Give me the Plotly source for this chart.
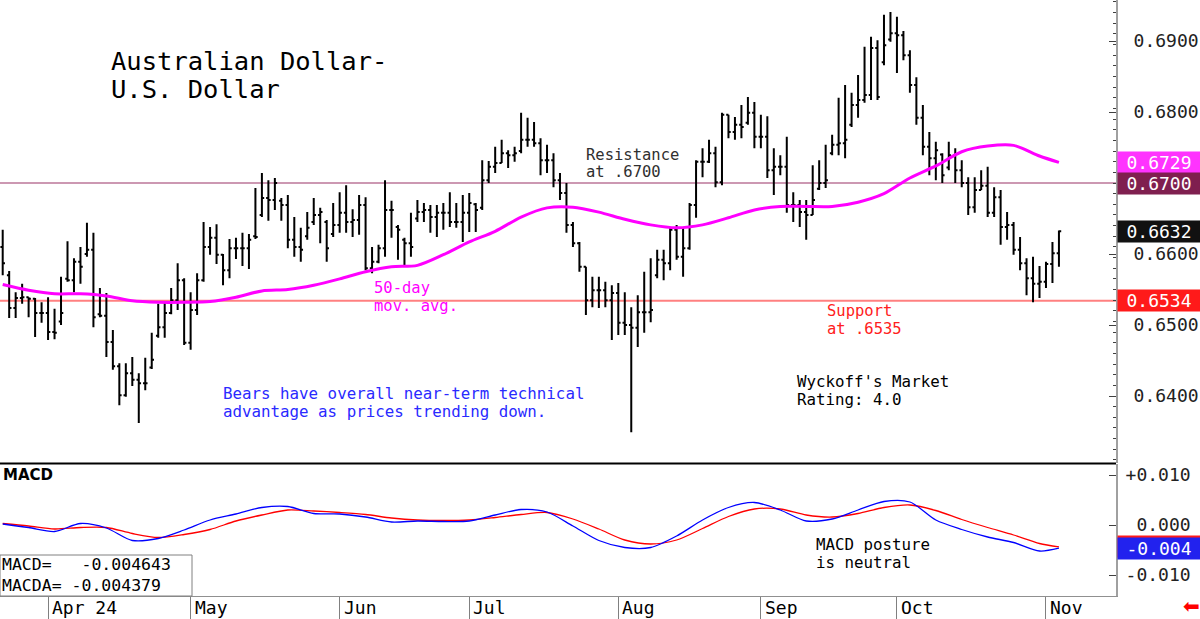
import plotly.graph_objects as go
import pandas as pd

# ---------------- data ----------------
dates = pd.bdate_range("2024-03-21", "2024-11-05")
month_labels = ["Apr 24", "May", "Jun", "Jul", "Aug", "Sep", "Oct", "Nov"]

opens = [
    .6610, .6570, .6524, .6538, .6539, .6537, .6517, .6517, .6490, .6505,
    .6565, .6563, .6589, .6600, .6606, .6515, .6513, .6476, .6442, .6401,
    .6432, .6423, .6418, .6440, .6485, .6497, .6517, .6535, .6563, .6475,
    .6521, .6563, .6610, .6623, .6599, .6577, .6608, .6608, .6608, .6625,
    .6655, .6679, .6676, .6675, .6669, .6620, .6610, .6625, .6645, .6655,
    .6645, .6628, .6641, .6658, .6645, .6648, .6669, .6580, .6589, .6608,
    .6662, .6638, .6620, .6615, .6650, .6659, .6662, .6652, .6658, .6658,
    .6645, .6645, .6658, .6670, .6665, .6704, .6723, .6728, .6742, .6739,
    .6745, .6761, .6761, .6756, .6732, .6732, .6704, .6686, .6641, .6615,
    .6582, .6535, .6549, .6549, .6535, .6545, .6503, .6500, .6496, .6518,
    .6518, .6570, .6592, .6587, .6634, .6596, .6608, .6669, .6730, .6730,
    .6742, .6701, .6796, .6772, .6782, .6785, .6799, .6765, .6765, .6718,
    .6723, .6723, .6669, .6669, .6659, .6655, .6692, .6700, .6742, .6754,
    .6756, .6782, .6810, .6817, .6824, .6890, .6870, .6902, .6911, .6908,
    .6880, .6838, .6792, .6751, .6735, .6740, .6722, .6739, .6718, .6700,
    .6666, .6690, .6696, .6658, .6680, .6638, .6641, .6606, .6587, .6566,
    .6558, .6561, .6586, .6601,
]
highs = [
    .6634, .6576, .6546, .6558, .6539, .6538, .6532, .6539, .6523, .6568,
    .6618, .6594, .6610, .6644, .6630, .6552, .6545, .6493, .6446, .6446,
    .6455, .6432, .6454, .6489, .6530, .6532, .6552, .6587, .6566, .6546,
    .6573, .6645, .6638, .6642, .6600, .6621, .6623, .6630, .6628, .6693,
    .6714, .6704, .6707, .6679, .6683, .6652, .6637, .6659, .6679, .6665,
    .6648, .6672, .6687, .6697, .6663, .6683, .6680, .6610, .6613, .6704,
    .6675, .6641, .6623, .6658, .6676, .6672, .6669, .6669, .6672, .6687,
    .6672, .6683, .6686, .6672, .6732, .6731, .6751, .6761, .6746, .6751,
    .6799, .6792, .6786, .6763, .6754, .6742, .6714, .6700, .6645, .6617,
    .6582, .6568, .6568, .6561, .6556, .6559, .6546, .6525, .6542, .6575,
    .6594, .6606, .6606, .6638, .6641, .6637, .6672, .6732, .6749, .6761,
    .6751, .6799, .6796, .6793, .6810, .6821, .6814, .6796, .6794, .6749,
    .6739, .6765, .6687, .6676, .6676, .6725, .6732, .6754, .6768, .6820,
    .6838, .6827, .6852, .6892, .6906, .6901, .6937, .6941, .6934, .6914,
    .6887, .6849, .6810, .6772, .6758, .6742, .6758, .6749, .6732, .6708,
    .6708, .6718, .6723, .6694, .6690, .6659, .6645, .6624, .6594, .6596,
    .6583, .6589, .6617, .6633,
]
lows = [
    .6570, .6510, .6510, .6530, .6511, .6483, .6503, .6479, .6480, .6500,
    .6561, .6546, .6558, .6596, .6497, .6511, .6455, .6437, .6387, .6399,
    .6414, .6362, .6408, .6438, .6482, .6482, .6515, .6521, .6472, .6465,
    .6514, .6561, .6599, .6586, .6556, .6566, .6593, .6583, .6579, .6621,
    .6652, .6647, .6662, .6647, .6608, .6596, .6589, .6620, .6641, .6615,
    .6589, .6624, .6630, .6630, .6624, .6627, .6577, .6573, .6587, .6596,
    .6623, .6592, .6582, .6596, .6645, .6645, .6630, .6624, .6634, .6638,
    .6637, .6617, .6631, .6631, .6662, .6700, .6714, .6728, .6721, .6730,
    .6742, .6751, .6751, .6711, .6714, .6694, .6676, .6630, .6610, .6575,
    .6514, .6525, .6524, .6525, .6479, .6486, .6486, .6349, .6469, .6489,
    .6504, .6566, .6563, .6577, .6592, .6568, .6606, .6651, .6708, .6728,
    .6694, .6697, .6763, .6761, .6763, .6782, .6749, .6749, .6707, .6683,
    .6711, .6658, .6645, .6638, .6620, .6655, .6690, .6693, .6739, .6739,
    .6735, .6779, .6792, .6813, .6817, .6817, .6866, .6899, .6855, .6873,
    .6827, .6782, .6739, .6711, .6704, .6700, .6718, .6700, .6694, .6655,
    .6658, .6690, .6652, .6652, .6613, .6620, .6599, .6577, .6542, .6532,
    .6538, .6552, .6559, .6582,
]
closes = [
    .6587, .6524, .6538, .6539, .6537, .6517, .6517, .6490, .6489, .6517,
    .6563, .6589, .6582, .6606, .6511, .6513, .6476, .6442, .6401, .6432,
    .6423, .6418, .6418, .6451, .6497, .6517, .6535, .6563, .6475, .6521,
    .6563, .6610, .6623, .6599, .6577, .6608, .6608, .6608, .6620, .6624,
    .6679, .6676, .6700, .6669, .6620, .6610, .6606, .6637, .6655, .6659,
    .6608, .6641, .6658, .6645, .6648, .6669, .6580, .6589, .6608, .6662,
    .6662, .6634, .6615, .6610, .6659, .6662, .6652, .6658, .6658, .6645,
    .6645, .6658, .6672, .6662, .6704, .6723, .6728, .6742, .6739, .6742,
    .6761, .6761, .6756, .6732, .6732, .6704, .6686, .6641, .6615, .6582,
    .6535, .6549, .6549, .6535, .6545, .6503, .6500, .6496, .6518, .6518,
    .6521, .6592, .6587, .6634, .6596, .6608, .6669, .6730, .6730, .6742,
    .6701, .6796, .6772, .6782, .6779, .6799, .6765, .6765, .6718, .6723,
    .6723, .6669, .6669, .6659, .6655, .6676, .6700, .6704, .6754, .6756,
    .6761, .6810, .6817, .6824, .6890, .6821, .6894, .6911, .6908, .6880,
    .6838, .6792, .6751, .6735, .6746, .6711, .6739, .6718, .6700, .6666,
    .6690, .6696, .6658, .6680, .6638, .6641, .6606, .6587, .6566, .6558,
    .6561, .6586, .6601, .6632,
]

# 50-day moving average, read every 4th session
ma_index = [0, 4, 8, 12, 16, 20, 24, 28, 32, 36, 40, 44, 48, 52, 56, 60, 64, 68, 72, 76,
            80, 84, 88, 92, 96, 100, 104, 108, 112, 116, 120, 124, 128, 132, 136, 140,
            144, 148, 152, 156, 160, 163]
ma_values = [.6557, .6549, .6544, .6544, .6541, .6534, .6532, .6532, .6533, .6539,
             .6548, .6550, .6556, .6565, .6575, .6582, .6584, .6599, .6617, .6632,
             .6652, .6665, .6666, .6659, .6649, .6641, .6637, .6641, .6651, .6662,
             .6667, .6667, .6667, .6673, .6685, .6707, .6724, .6744, .6752, .6753,
             .6738, .6729]

# MACD and its average, read every 4th session
macd_index = ma_index
macd_values = [.0002, -.0005, -.0013, .0003, -.0006, -.0031, -.0027, -.0010, .0010, .0022,
               .0035, .0037, .0023, .0022, .0016, .0006, .0008, .0007, .0008, .0020,
               .0031, .0026, -.0002, -.0031, -.0045, -.0045, -.0022, .0010, .0035, .0045,
               .0030, .0008, .0012, .0030, .0047, .0046, .0010, -.0009, -.0024, -.0035,
               -.0052, -.004643]
macda_values = [.0003, -.0002, -.0008, -.0005, -.0005, -.0017, -.0025, -.0019, -.0009, .0008,
                .0020, .0030, .0028, .0025, .0021, .0014, .0010, .0009, .0010, .0015,
                .0021, .0025, .0012, -.0008, -.0030, -.0038, -.0030, -.0007, .0017, .0032,
                .0032, .0020, .0016, .0023, .0035, .0040, .0029, .0011, -.0005, -.0020,
                -.0037, -.004379]

price_ticks = [0.64, 0.65, 0.66, 0.68, 0.69]
macd_ticks = [-0.01, 0.0, 0.01]
macd_ticktext = ["-0.010", "\u00a00.000", "+0.010"]
resistance = 0.6700
support = 0.6534
ma_last = 0.6729
last_close = 0.6632

# ---------------- layout helpers ----------------
W, H = 1200, 619
PW, PH = 1116, 596          # plot area (margin r=84, b=23)
MONO = "DejaVu Sans Mono"


def px(x):
    return x / PW


def py(y):
    return (PH - y) / PH


n = len(dates)
idx = list(range(n))
month_idx = [i for i in range(1, n) if dates[i].month != dates[i - 1].month]

fig = go.Figure()

fig.add_trace(go.Ohlc(
    x=idx, open=opens, high=highs, low=lows, close=closes,
    increasing=dict(line=dict(color="black", width=2)),
    decreasing=dict(line=dict(color="black", width=2)),
    tickwidth=0.35, xaxis="x", yaxis="y", showlegend=False, hoverinfo="skip",
))
fig.add_trace(go.Scatter(
    x=ma_index, y=ma_values, mode="lines", xaxis="x", yaxis="y",
    line=dict(color="#ff00ff", width=3, shape="spline", smoothing=0.8),
    showlegend=False, hoverinfo="skip",
))
fig.add_trace(go.Scatter(
    x=macd_index, y=macda_values, mode="lines", xaxis="x2", yaxis="y2",
    line=dict(color="#ff0000", width=1.3, shape="spline", smoothing=0.8),
    showlegend=False, hoverinfo="skip",
))
fig.add_trace(go.Scatter(
    x=macd_index, y=macd_values, mode="lines", xaxis="x2", yaxis="y2",
    line=dict(color="#0000ff", width=1.3, shape="spline", smoothing=0.8),
    showlegend=False, hoverinfo="skip",
))

x_range = [-2.7 / 6.48, (PW - 2.7) / 6.48]

shapes = [
    dict(type="line", xref="paper", x0=0, x1=1, yref="y", y0=resistance, y1=resistance,
         line=dict(color="#993366", width=1.2), layer="below"),
    dict(type="line", xref="paper", x0=0, x1=1, yref="y", y0=support, y1=support,
         line=dict(color="#ff8080", width=2), layer="below"),
    # panel separator
    dict(type="line", xref="paper", x0=0, x1=1, yref="paper", y0=py(463.5), y1=py(463.5),
         line=dict(color="black", width=2)),
    # MACD readout box
    dict(type="rect", xref="paper", x0=0, x1=px(192), yref="paper", y0=0, y1=py(555),
         line=dict(color="#808080", width=1), fillcolor="white"),
]

annotations = []


def text(t, x, y, size=16, color="black", family=MONO, **kw):
    annotations.append(dict(
        text=t, xref="paper", yref="paper", x=px(x), y=py(y),
        xanchor=kw.pop("xanchor", "left"), yanchor="middle", showarrow=False,
        font=dict(family=family, size=size, color=color), **kw))


text("Australian Dollar-", 109, 61, size=25.5)
text("U.S. Dollar", 109, 89, size=25.5)
text("Resistance", 584, 155, color="#303030", size=15.5)
text("at .6700", 584, 172, color="#303030", size=15.5)
text("50-day", 372, 288, color="#ff00ff", size=15.5)
text("mov. avg.", 372, 306, color="#ff00ff", size=15.5)
text("Support", 825, 311, color="#ff2020", size=15.5)
text("at .6535", 825, 329, color="#ff2020", size=15.5)
text("Bears have overall near-term technical", 221, 393, color="#2a2aff", size=15.8)
text("advantage as prices trending down.", 221, 411, color="#2a2aff", size=15.8)
text("Wyckoff's Market", 795, 381, size=15.8)
text("Rating: 4.0", 795, 399, size=15.8)
text("MACD posture", 814, 544, size=15.8)
text("is neutral", 814, 562, size=15.8)
text("<b>MACD</b>", 1, 475, size=15, family="DejaVu Sans")
text("MACD=\u00a0\u00a0\u00a0-0.004643<br>MACDA=\u00a0-0.004379", 0, 575, size=16.5, align="left")
text("\u2b05", 1191, 606, size=20, color="#ff0000", xanchor="center", family="DejaVu Sans")

# month labels (right of the month tick lines)
for i, lab in zip(month_idx, month_labels):
    annotations.append(dict(
        text=lab, xref="x2", x=i, xshift=2, yref="paper", y=py(607),
        xanchor="left", yanchor="middle", showarrow=False,
        font=dict(family=MONO, size=18, color="black")))


def box(value, yref, bg, label=None):
    annotations.append(dict(
        text=label if label else f"{value:.4f}", xref="paper", x=1, xshift=1,
        yref=yref, y=value, xanchor="left", yanchor="middle", showarrow=False,
        width=80, height=19, align="center", borderpad=1, bgcolor=bg,
        font=dict(family=MONO, size=18, color="white")))


box(ma_last, "y", "#ff33ff")
box(resistance, "y", "#7f1f4f")
box(last_close, "y", "#111111")
box(support, "y", "#ff1a1a")
box(macda_values[-1], "y2", "#ff1a1a", label="-0.004")
box(macd_values[-1], "y2", "#2222ee", label="-0.004")

fig.update_layout(
    width=W, height=H,
    margin=dict(l=0, r=W - PW, t=0, b=H - PH),
    paper_bgcolor="white", plot_bgcolor="white",
    font=dict(family=MONO, size=16, color="black"),
    showlegend=False,
    xaxis=dict(domain=[0, 1], anchor="y", range=x_range, showticklabels=False,
               showgrid=False, zeroline=False, showline=False, ticks="",
               rangeslider=dict(visible=False)),
    xaxis2=dict(domain=[0, 1], anchor="y2", matches="x", range=x_range,
                tickvals=month_idx, showticklabels=False, ticks="outside",
                ticklen=23, tickcolor="#808080", tickwidth=1,
                showgrid=False, zeroline=False, showline=True,
                linecolor="#909090", linewidth=1),
    yaxis=dict(domain=[py(463), 1], anchor="x", side="right", range=[0.695775 - 463 / 7100, 0.695775],
               tickvals=price_ticks, tickformat=".4f", ticks="inside", ticklen=7,
               tickcolor="#404040", showline=True, linecolor="#a0a0a0", linewidth=2,
               showgrid=False, zeroline=False, ticklabelstandoff=12,
               tickfont=dict(family=MONO, size=18, color="#222222"),
               minor=dict(ticks="inside", ticklen=3, tickcolor="#404040", dtick=0.0015, tick0=0.64)),
    yaxis2=dict(domain=[0, py(464)], anchor="x2", side="right", range=[(525 - 596) / 5000, (525 - 464) / 5000],
                tickvals=macd_ticks, ticktext=macd_ticktext, ticks="inside", ticklen=7,
                tickcolor="#404040", showline=True, linecolor="#a0a0a0", linewidth=2,
                showgrid=False, zeroline=False, ticklabelstandoff=4,
                tickfont=dict(family=MONO, size=18, color="#222222")),
    shapes=shapes,
    annotations=annotations,
)

fig.write_html("out.html")
